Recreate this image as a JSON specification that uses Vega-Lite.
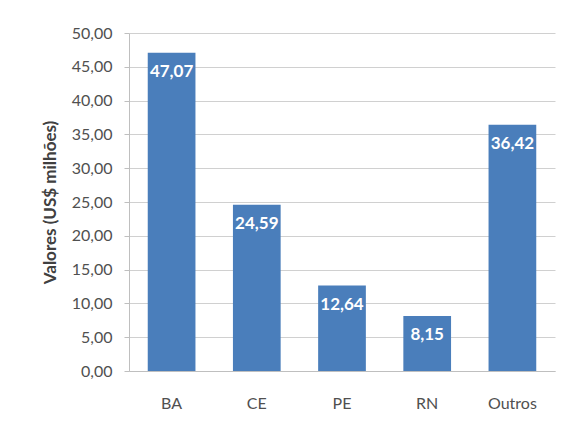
{
  "$schema": "https://vega.github.io/schema/vega-lite/v6.json",
  "width": 426,
  "height": 338,
  "padding": {"left": 129, "top": 33, "right": 19, "bottom": 59},
  "autosize": {"type": "none"},
  "background": "white",
  "config": {
    "locale": {"number": {"decimal": ",", "thousands": ".", "grouping": [3], "currency": ["US$", ""]}},
    "view": {"stroke": null},
    "font": "Lato"
  },
  "data": {"values": [
    {"estado": "BA", "valor": 47.07},
    {"estado": "CE", "valor": 24.59},
    {"estado": "PE", "valor": 12.64},
    {"estado": "RN", "valor": 8.15},
    {"estado": "Outros", "valor": 36.42}
  ]},
  "encoding": {
    "x": {"field": "estado", "type": "nominal", "sort": null,
      "scale": {"paddingInner": 0.44, "paddingOuter": 0.22},
      "axis": {"title": null, "labelAngle": 0, "labelFontSize": 16, "labelColor": "#505050", "labelPadding": 24, "ticks": false, "domainColor": "#bfbfbf", "grid": false}},
    "y": {"field": "valor", "type": "quantitative",
      "scale": {"domain": [0, 50], "nice": false},
      "axis": {"title": "Valores (US$ milhões)", "titleFontSize": 17, "titleFontWeight": "bold", "titleColor": "#404040", "titlePadding": 12,
        "values": [0, 5, 10, 15, 20, 25, 30, 35, 40, 45, 50], "format": ".2f",
        "labelFontSize": 16, "labelColor": "#505050", "labelPadding": 12,
        "tickSize": 5, "tickColor": "#bfbfbf", "domainColor": "#bfbfbf", "gridColor": "#d0d0d0"}}
  },
  "layer": [
    {"mark": {"type": "bar", "color": "#4a7ebb"}},
    {"mark": {"type": "text", "color": "white", "fontWeight": "bold", "fontSize": 17, "baseline": "middle", "dy": 19},
      "encoding": {"text": {"field": "valor", "type": "quantitative", "format": ".2f"}}}
  ]
}
